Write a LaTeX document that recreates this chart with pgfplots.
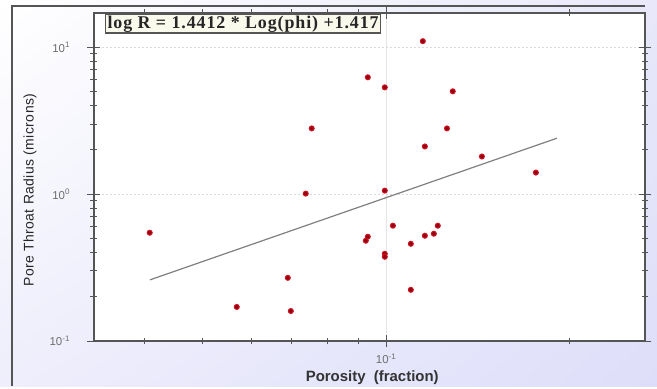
\documentclass[border=0pt]{standalone}
\usepackage{fontspec}
\setmainfont{Liberation Sans}
\newfontfamily\serifb[LetterSpace=5]{Liberation Serif}
\newfontfamily\ysans[LetterSpace=3]{Liberation Sans}
\usepackage{pgfplots}
\usetikzlibrary{shadings}
\pgfplotsset{compat=1.18}
\definecolor{lavA}{RGB}{238,238,252}
\definecolor{lavB}{RGB}{232,232,250}
\definecolor{lavC}{RGB}{222,222,250}
\definecolor{axgray}{RGB}{85,85,85}
\definecolor{ticklab}{RGB}{110,110,110}
\definecolor{boxfill}{RGB}{250,250,236}
\definecolor{dotred}{RGB}{205,20,30}
\definecolor{dotdark}{RGB}{150,0,20}
\pgfplotstableread{
x y
0.04087 0.546
0.05682 0.1706
0.06893 0.2692
0.06972 0.160
0.07377 1.008
0.07547 2.80
0.09331 6.24
0.0926 0.4816
0.0933 0.5128
0.0995 5.33
0.0995 1.056
0.0995 0.3925
0.0995 0.3744
0.1026 0.6095
0.1149 10.99
0.1158 2.11
0.1098 0.459
0.1098 0.2230
0.1158 0.5208
0.1198 0.5375
0.1216 0.6095
0.1259 2.80
0.1287 5.01
0.1437 1.803
0.1763 1.402
}\pts
\begin{document}
\begin{tikzpicture}[x=1bp,y=1bp]
\shade[upper left=white, upper right=lavB, lower left=lavA, lower right=lavC] (0,0) rectangle (657,386);
\draw[color=axgray, line width=1.5bp] (12,0) -- (12,380) -- (645,380);
\begin{axis}[
  at={(94bp,45bp)}, anchor=south west,
  scale only axis, width=551bp, height=328bp,
  xmode=log, ymode=log,
  xmin=0.0331, xmax=0.2664, ymin=0.1, ymax=17.1,
  axis background/.style={fill=white},
  axis line style={color=axgray, line width=1.5bp},
  xtick={0.1}, xticklabels={10\textsuperscript{-1}},
  minor xtick={0.04,0.05,0.06,0.07,0.08,0.09,0.2},
  ytick={0.1,1,10}, yticklabels={10\textsuperscript{-1},10\textsuperscript{0},10\textsuperscript{1}},
  minor ytick={0.2,0.3,0.4,0.5,0.6,0.7,0.8,0.9,2,3,4,5,6,7,8,9},
  tick align=center,
  major tick length=13bp, minor tick length=7bp,
  every tick/.style={color=axgray, line width=1bp},
  xmajorgrids, ymajorgrids,
  major x grid style={color=black!10, line width=0.8bp},
  major y grid style={color=black!15, line width=0.8bp, dash pattern=on 2bp off 2bp},
  tick label style={font=\fontsize{11.5}{13}\selectfont, color=ticklab},
  yticklabel style={xshift=-14bp},
  xticklabel style={yshift=-3bp},
  xlabel={Porosity\ \ (fraction)},
  xlabel style={font=\fontsize{15}{17}\selectfont\bfseries, color=black!80, at={(axis description cs:0.505,-0.113)}, anchor=center},
  ylabel={Pore Throat Radius (microns)},
  ylabel style={font=\ysans\fontsize{14}{16}\selectfont, color=black!85, at={(axis description cs:-0.116,0.46)}, anchor=center},
]
\addplot[color=gray, line width=1.2bp] coordinates {(0.0409,0.2607) (0.1909,2.402)};
\addplot[only marks, mark=*, mark size=2.5bp, mark options={fill=dotdark, draw=dotred, line width=1bp}] table[x=x,y=y] {\pts};
\node[anchor=north west, draw=axgray, line width=1.2bp, fill=boxfill, inner xsep=2bp, inner ysep=1bp, font=\serifb\bfseries\fontsize{18}{19}\selectfont, text=black!85] at (rel axis cs:0,1) [xshift=11bp, yshift=-1bp] {log R = 1.4412 * Log(phi) +1.417};
\end{axis}
\end{tikzpicture}
\end{document}
